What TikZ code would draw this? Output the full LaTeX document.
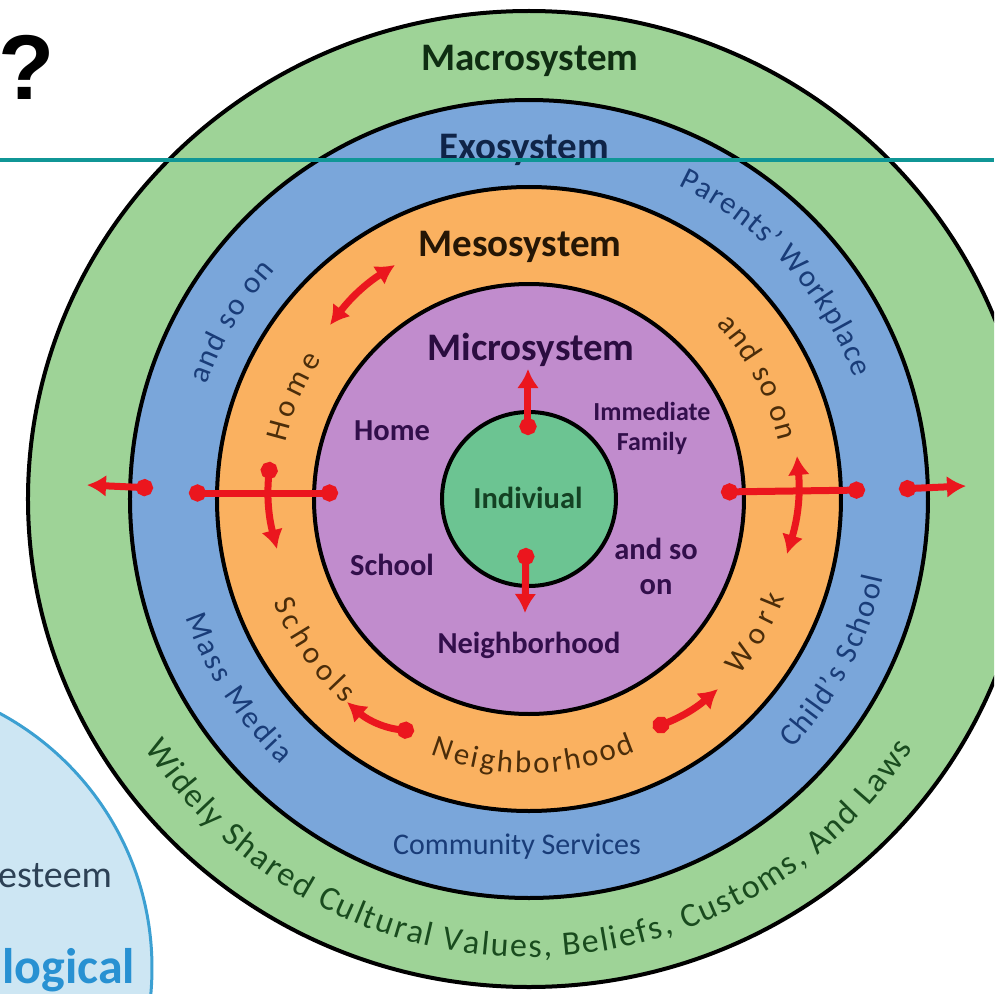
\documentclass[tikz,border=0pt]{standalone}
\usepackage{fontspec}
\setmainfont{Carlito}
\newfontfamily\qmarkfont{Liberation Sans}
\usetikzlibrary{arrows.meta,decorations.text}

\definecolor{macrofill}{RGB}{158,211,151}
\definecolor{exofill}{RGB}{122,166,218}
\definecolor{mesofill}{RGB}{250,177,96}
\definecolor{microfill}{RGB}{193,140,205}
\definecolor{indfill}{RGB}{108,196,146}
\definecolor{arrowred}{RGB}{235,22,30}
\definecolor{rulecol}{RGB}{16,150,150}
\definecolor{slidefill}{RGB}{205,230,243}
\definecolor{slideline}{RGB}{60,160,210}
\definecolor{slidetext}{RGB}{45,65,85}
\definecolor{slideblue}{RGB}{40,145,210}
\definecolor{macrotext}{RGB}{25,75,30}
\definecolor{exotext}{RGB}{25,60,120}
\definecolor{mesotext}{RGB}{75,45,10}
\definecolor{microtext}{RGB}{50,15,75}
\definecolor{indtext}{RGB}{20,65,35}

% text along one of the rings: colour, font, radius, from, to, text
\newcommand{\ringlabel}[6]{%
  \path[decorate, decoration={text along path, text color=#1,
    text={|#2|#6}, text align={fit to path}}]
    (#4:#3) arc[start angle=#4, end angle=#5, radius=#3];}

\newcommand{\labfont}{\fontsize{31}{31}\selectfont}
\newcommand{\bigfont}{\fontsize{34}{34}\selectfont}

\tikzset{
    every node/.append style={
        inner sep=0pt,
        outer sep=0pt,
    },
    ring/.style={
        draw=black,
        line width=4pt,
    },
    head/.style={
        anchor=base,
        font=\fontsize{39}{42}\selectfont\bfseries,
    },
    item/.style={
        align=center,
        text=microtext,
        font=\fontsize{30.5}{35}\selectfont\bfseries,
    },
    link/.style={
        draw=arrowred,
        line width=7pt,
    },
    rr/.style={arrows={Circle[length=17pt]-Circle[length=17pt]}},
    rp/.style={arrows={Circle[length=17pt]-Latex[length=19pt,width=22pt]}},
    pr/.style={arrows={Latex[length=19pt,width=22pt]-Circle[length=17pt]}},
    pp/.style={arrows={Latex[length=19pt,width=22pt]-Latex[length=19pt,width=22pt]}},
}

\begin{document}
\begin{tikzpicture}[x=1pt, y=1pt]

    \useasboundingbox (-529,-495) rectangle (465,499);
    \clip (-529,-495) rectangle (465,499);

    % what shows of the slide behind
    \draw[fill=slidefill, draw=slideline, line width=3pt] (-666,-469) circle[radius=289];
    \node[anchor=base east, text=slidetext, font=\fontsize{38}{38}\selectfont] (esteem) at (-417,-388) {esteem};
    \node[anchor=base east, text=slideblue, font=\fontsize{50}{50}\selectfont\bfseries] (logical) at (-394,-484) {logical};
    \node[anchor=base west, font=\qmarkfont\bfseries\fontsize{92}{92}\selectfont] (qmark) at (-530,399) {?};

    % the rings
    \draw[ring, fill=macrofill] (0,0) ellipse[x radius=501, y radius=488];
    \draw[ring, fill=exofill] (0,0) circle[radius=399];
    \draw[ring, fill=mesofill] (0,0) circle[radius=312];
    \draw[ring, fill=microfill] (0,0) circle[radius=215];
    \draw[ring, fill=indfill] (0,0) circle[radius=87];

    \node[head, text=macrotext!60!black] (macro) at (1,428) {Macrosystem};
    \node[head, text=exotext!60!black] (exo) at (-5,339) {Exosystem};
    \node[head, text=mesotext!50!black] (meso) at (-9,243) {Mesosystem};
    \node[head, text=microtext!85!black] (micro) at (2,139) {Microsystem};

    \node[item, text=indtext] (indiv) at (-1,1) {Indiviual};
    \node[item] (mhome) at (-137,68) {Home};
    \node[item] (mschool) at (-137,-66) {School};
    \node[item, font=\fontsize{26}{30}\selectfont\bfseries] (mfamily) at (123,71) {Immediate\\Family};
    \node[item] (mrest) at (127,-67) {and so\\on};
    \node[item] (mneigh) at (0,-146) {Neighborhood};

    \node[text=exotext, font=\fontsize{30}{30}\selectfont] (community) at (-12,-348) {Community Services};

    % curved labels
    \ringlabel{exotext}{\labfont}{347}{64.5}{20.5}{Parents' Workplace}
    \ringlabel{exotext}{\labfont}{342}{160.5}{138}{and so on}
    \ringlabel{exotext}{\labfont}{363}{199}{227}{Mass Media}
    \ringlabel{exotext}{\labfont}{363}{316.5}{347.5}{Child's School}
    \ringlabel{mesotext}{\labfont}{250}{167}{146}{Home}
    \ringlabel{mesotext}{\labfont}{256}{43}{13}{and so on}
    \ringlabel{mesotext}{\labfont}{276}{202}{228}{Schools}
    \ringlabel{mesotext}{\labfont}{274}{249}{293}{Neighborhood}
    \ringlabel{mesotext}{\labfont}{274}{320}{339}{Work}
    \ringlabel{macrotext}{\bigfont}{458}{213}{327}{Widely Shared Cultural Values, Beliefs, Customs, And Laws}

    % arrow ends
    \coordinate (a1in) at (-1,64);
    \coordinate (a1out) at (-1,130);
    \coordinate (a2in) at (-3,-49);
    \coordinate (a2out) at (-4,-114);
    \coordinate (a3l) at (-340,6);
    \coordinate (a3r) at (-191,6);
    \coordinate (a4t) at (-259,37);
    \coordinate (a4b) at (-252,-50);
    \coordinate (a5l) at (-442,14);
    \coordinate (a5r) at (-376,11);
    \coordinate (a6l) at (192,7);
    \coordinate (a6r) at (336,9);
    \coordinate (a7t) at (268,43);
    \coordinate (a7b) at (258,-55);
    \coordinate (a8l) at (370,10);
    \coordinate (a8r) at (437,13);
    \coordinate (a9a) at (-199,174);
    \coordinate (a9b) at (-134,234);
    \coordinate (a10a) at (-182,-203);
    \coordinate (a10b) at (-115,-232);
    \coordinate (a11a) at (124,-229);
    \coordinate (a11b) at (189,-190);

    \draw[link, rp] (a1in) -- (a1out);
    \draw[link, rp] (a2in) -- (a2out);
    \draw[link, rr] (a3l) -- (a3r);
    \draw[link, rp] (a4t) to[bend right=10] (a4b);
    \draw[link, rp] (a5r) -- (a5l);
    \draw[link, rr] (a6l) -- (a6r);
    \draw[link, pp] (a7t) to[bend left=11] (a7b);
    \draw[link, rp] (a8l) -- (a8r);
    \draw[link, pp] (a9a) to[bend left=10] (a9b);
    \draw[link, pr] (a10a) to[bend right=18] (a10b);
    \draw[link, rp] (a11a) to[bend right=10] (a11b);

    % slide rule across the top
    \coordinate (ruleL) at (-529,339);
    \coordinate (ruleR) at (465,339);
    \draw[rulecol, line width=4.5pt] (ruleL) -- (ruleR);

\end{tikzpicture}
\end{document}
